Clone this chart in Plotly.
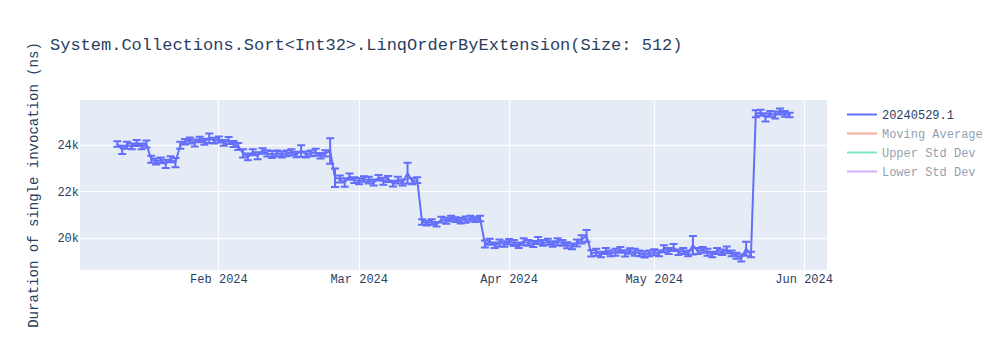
import pandas as pd
import plotly.graph_objects as go

# Daily observations, 2024-01-11 .. 2024-05-29
dates = pd.date_range("2024-01-11", "2024-05-29", freq="D")

jan = [24050, 23800, 24000, 23950, 24100, 23950, 24050,
       23400, 23300, 23350, 23200, 23400, 23250,
       24000, 24150, 24200, 24100, 24250, 24150, 24300, 24200]
feb = [24250, 24100, 24200, 24050, 23950,
       23650, 23500, 23700, 23550, 23750, 23650, 23600, 23650, 23600, 23650,
       23700, 23600, 23750, 23600, 23650, 23700, 23550, 23650, 23750,
       22600, 22550, 22400, 22650, 22500]
mar = [22450, 22550, 22500, 22400, 22600, 22450, 22550, 22350, 22500, 22400,
       22800, 22450, 22500,
       20700, 20650, 20700, 20600, 20800, 20750, 20850, 20800, 20750, 20800,
       20850, 20800, 20850,
       19750, 19850, 19700, 19800, 19750]
apr = [19850, 19800, 19700, 19850, 19800, 19750, 19900, 19800, 19850, 19750,
       19850, 19800, 19700, 19650, 19800, 19950, 20100,
       19350, 19400, 19300, 19450, 19350, 19400, 19500, 19350, 19450, 19400,
       19350, 19300, 19350]
may = [19400, 19350, 19550, 19450, 19600, 19400, 19450, 19350, 19700, 19450,
       19500, 19400, 19300, 19450, 19400, 19500, 19350, 19250, 19150, 19550,
       19300,
       25350, 25400, 25200, 25350, 25300, 25450, 25350, 25300]
durations = jan + feb + mar + apr + may

err_jan = [120, 180, 150, 120, 130, 120, 150,
           150, 130, 120, 180, 130, 200,
           150, 120, 130, 150, 120, 130, 200, 120]
err_feb = [130, 120, 150, 130, 150,
           180, 150, 130, 150, 120, 130, 150, 120, 130, 120,
           130, 120, 250, 130, 120, 150, 120, 130, 550,
           400, 150, 180, 130, 120]
err_mar = [130, 120, 150, 130, 120, 150, 130, 120, 150, 130,
           450, 130, 120,
           120, 100, 120, 100, 120, 130, 120, 100, 120, 130,
           120, 100, 120,
           150, 130, 120, 150, 120]
err_apr = [120, 130, 120, 150, 120, 130, 150, 120, 130, 120,
           150, 120, 130, 120, 150, 180, 250,
           130, 150, 120, 130, 120, 150, 120, 130, 120, 150,
           120, 130, 120]
err_may = [130, 120, 150, 130, 150, 120, 130, 120, 400, 130,
           120, 150, 120, 130, 120, 150, 120, 130, 150, 300,
           120,
           150, 130, 180, 120, 150, 130, 120, 100]
errors = err_jan + err_feb + err_mar + err_apr + err_may

series_names = ["20240529.1", "Moving Average", "Upper Std Dev", "Lower Std Dev"]
title_text = "System.Collections.Sort<Int32>.LinqOrderByExtension(Size: 512)"
y_title = "Duration of single invocation (ns)"

fig = go.Figure()
fig.add_trace(go.Scatter(
    x=dates, y=durations, mode="lines", name=series_names[0],
    error_y=dict(type="data", array=errors, visible=True),
))
for nm in series_names[1:]:
    fig.add_trace(go.Scatter(x=dates, y=durations, mode="lines", name=nm,
                             visible="legendonly"))

fig.update_layout(
    width=1000, height=350,
    title=dict(text=title_text),
    font=dict(family="Courier New, Liberation Mono, monospace"),
    yaxis=dict(title=dict(text=y_title)),
)
fig.write_html("out.html")
